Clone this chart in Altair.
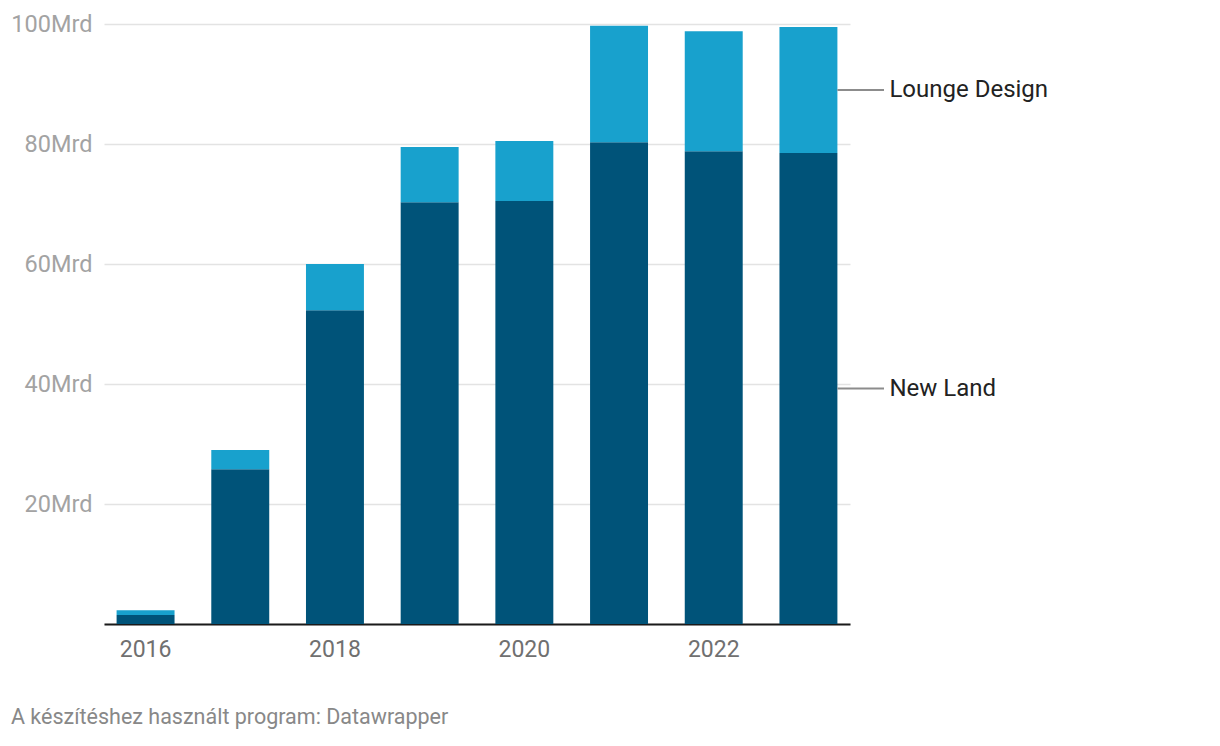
import altair as alt
import pandas as pd

years = ["2016", "2017", "2018", "2019", "2020", "2021", "2022", "2023"]
new_land = [1.5, 25.8, 52.3, 70.3, 70.5, 80.3, 78.8, 78.5]
lounge_design = [0.8, 3.2, 7.7, 9.2, 10.0, 19.4, 20.0, 21.0]
series = ["New Land", "Lounge Design"]
colors = ["#005379", "#18a1cd"]
y_ticks = [0, 20, 40, 60, 80, 100]
x_labels = ["2016", "2018", "2020", "2022"]
footer = "A készítéshez használt program: Datawrapper"

rows = []
for i, yr in enumerate(years):
    rows.append({"year": yr, "series": "New Land", "order": 0, "value": new_land[i]})
    rows.append({"year": yr, "series": "Lounge Design", "order": 1, "value": lounge_design[i]})
df = pd.DataFrame(rows)

# label positions: midpoint of each segment of last bar
last = len(years) - 1
lab = pd.DataFrame({
    "year": [years[last], years[last]],
    "series": ["New Land", "Lounge Design"],
    "mid": [new_land[last] / 2, new_land[last] + lounge_design[last] / 2],
})

FONT = "Roboto"

xscale = alt.Scale(domain=years, paddingInner=0.388, paddingOuter=0.133)
yscale = alt.Scale(domain=[0, 100], nice=False)

bars = alt.Chart(df).mark_bar().encode(
    x=alt.X("year:N", scale=xscale, sort=years,
            axis=alt.Axis(title=None, labelAngle=0, ticks=False, domain=True,
                          domainColor="#1a1a1a", domainWidth=2,
                          labelFont=FONT, labelFontSize=23, labelColor="#707070",
                          labelPadding=14, grid=False,
                          labelExpr="indexof(" + str(x_labels) + ", datum.value) >= 0 ? datum.value : ''")),
    y=alt.Y("value:Q", scale=yscale, stack="zero",
            axis=alt.Axis(title=None, values=y_ticks, ticks=False, domain=False,
                          grid=True, gridColor="#e3e3e3", gridWidth=1.5,
                          labelFont=FONT, labelFontSize=23.5, labelColor="#a3a3a3",
                          labelPadding=12,
                          labelExpr="datum.value == 0 ? '' : datum.value + 'Mrd'")),
    color=alt.Color("series:N", scale=alt.Scale(domain=series, range=colors), legend=None),
    order=alt.Order("order:Q"),
)

rules = alt.Chart(lab).mark_rule(color="#8c8c8c", strokeWidth=2).encode(
    x=alt.X("year:N", scale=xscale, sort=years, bandPosition=1),
    x2=alt.value(780),
    y=alt.Y("mid:Q", scale=yscale),
)

texts = alt.Chart(lab).mark_text(align="left", baseline="middle", dx=52,
                                 font=FONT, fontSize=24, color="#222222").encode(
    x=alt.X("year:N", scale=xscale, sort=years, bandPosition=1),
    y=alt.Y("mid:Q", scale=yscale),
    text="series:N",
)

chart = alt.layer(bars, rules, texts).properties(
    width=746,
    height=600,
    autosize=alt.AutoSizeParams(type="none"),
    padding={"left": 104, "top": 24, "right": 370, "bottom": 122},
    title=alt.TitleParams(footer, orient="bottom", anchor="start", frame="group",
                          dx=-93, offset=46, font=FONT, fontSize=21.5,
                          fontWeight="normal", color="#888888"),
).configure(background="white").configure_view(stroke=None, strokeWidth=0)

chart.save("out.html", embed_options={"renderer": "svg", "actions": False})
